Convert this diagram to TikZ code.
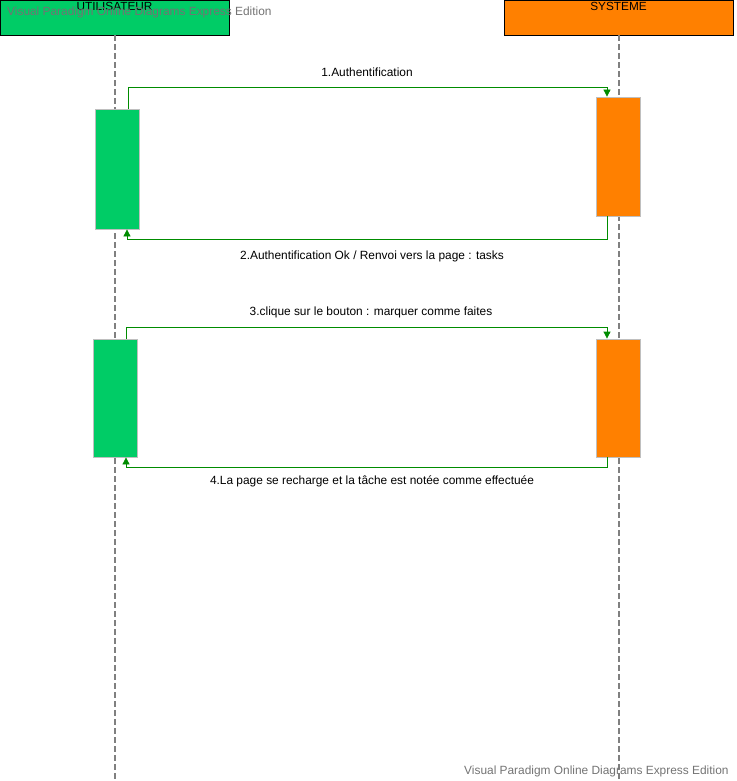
\documentclass[tikz,border=0pt]{standalone}
\usepackage{fontspec}
\setmainfont{Liberation Sans}
\usetikzlibrary{positioning,calc,arrows.meta}

\definecolor{usergreen}{RGB}{0,204,102}
\definecolor{sysorange}{RGB}{255,128,0}
\definecolor{msggreen}{RGB}{0,140,0}
\definecolor{lifegray}{RGB}{128,128,128}

\begin{document}
\begin{tikzpicture}[x=1pt, y=-1pt,
    head/.style = {draw, line width=0.8pt, inner sep=0, minimum width=229pt, minimum height=35pt},
    headtext/.style = {anchor=north, inner sep=0, font=\fontsize{11.8}{14}\selectfont},
    actbox/.style = {draw=black!25, line width=0.8pt, inner sep=0, minimum width=44pt},
    lifeline/.style = {draw=lifegray, line width=1.5pt, dash pattern=on 6pt off 3pt},
    msg/.style = {draw=msggreen, line width=0.8pt, -{Triangle[width=7pt,length=7pt]}},
    msglabel/.style = {inner sep=0, font=\fontsize{11.9}{14}\selectfont},
    watermark/.style = {anchor=west, inner sep=0, text=black!55, font=\fontsize{11.9}{14}\selectfont}]
  \useasboundingbox (0,0) rectangle (736,781);

  % en-tetes
  \node[head, fill=usergreen, name=user] at (114.5,17.5) {};
  \node[head, fill=sysorange, name=sys]  at (618.5,17.5) {};
  \node[headtext] at ([yshift=-2pt]user.north) {UTILISATEUR};
  \node[headtext] at ([yshift=-2pt]sys.north)  {SYSTEME};

  % lignes de vie
  \coordinate (userend) at (115,781);
  \coordinate (sysend)  at (619,781);
  \draw[lifeline] (user.south -| userend) -- (userend);
  \draw[lifeline] (sys.south -| sysend) -- (sysend);

  % activations
  \node[actbox, fill=usergreen, minimum height=120pt, name=u1] at (117,169)   {};
  \node[actbox, fill=sysorange, minimum height=119pt, name=s1] at (618.5,156.5) {};
  \node[actbox, fill=usergreen, minimum height=118pt, name=u2] at (115,398)   {};
  \node[actbox, fill=sysorange, minimum height=118pt, name=s2] at (618.5,398) {};

  % messages
  \draw[msg] ([xshift=11pt]u1.north) -- ++(0,-21) -| ([xshift=-11.5pt]s1.north);
  \draw[msg] ([xshift=-11.5pt]s1.south) -- ++(0,23) -| ([xshift=10pt]u1.south);
  \draw[msg] ([xshift=11pt]u2.north) -- ++(0,-11) -| ([xshift=-11.5pt]s2.north);
  \draw[msg] ([xshift=-11.5pt]s2.south) -- ++(0,10) -| ([xshift=11pt]u2.south);

  \node[msglabel, name=l1] at (367,72)  {1.Authentification};
  \node[msglabel, name=l2] at (372,256) {2.Authentification Ok / Renvoi vers la page : tasks};
  \node[msglabel, name=l3] at (371,312) {3.clique sur le bouton : marquer comme faites};
  \node[msglabel, name=l4] at (372,481) {4.La page se recharge et la tâche est notée comme effectuée};

  % filigranes
  \node[watermark, name=wm1] at (7,12)    {Visual Paradigm Online Diagrams Express Edition};
  \node[watermark, name=wm2] at (464,771) {Visual Paradigm Online Diagrams Express Edition};
\end{tikzpicture}
\end{document}
